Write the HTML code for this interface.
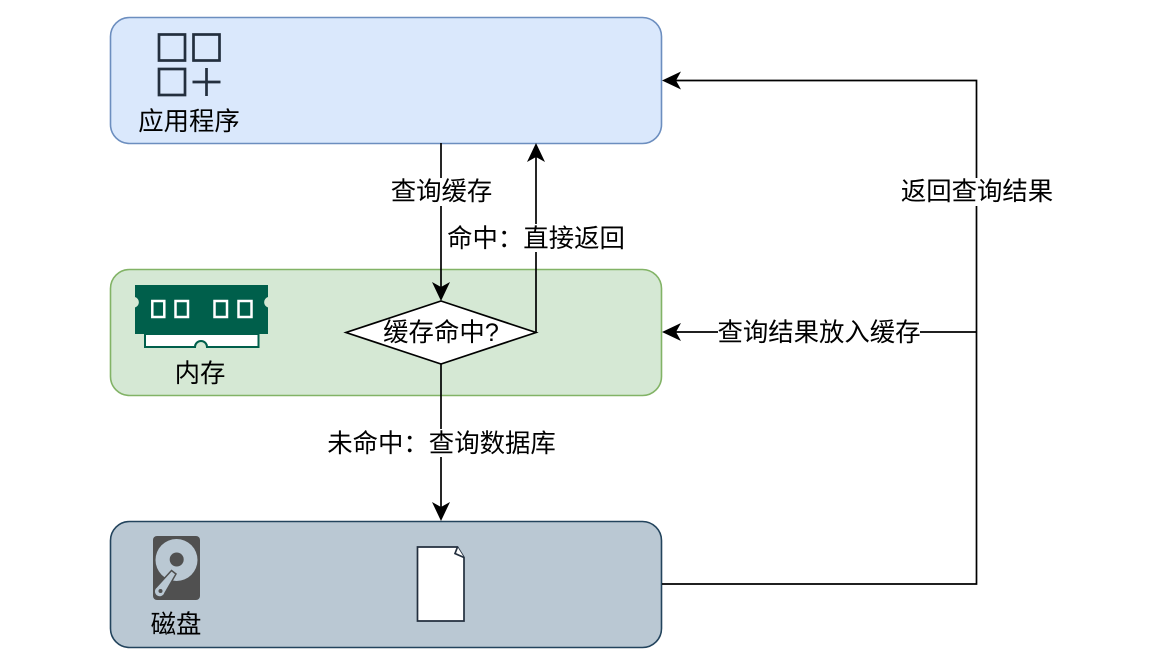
<!DOCTYPE html>
<html><head><meta charset="utf-8"><style>
html,body{margin:0;padding:0;background:#fff;width:1153px;height:667px;overflow:hidden}
svg{display:block}
text{font-family:"Liberation Sans","Noto Sans CJK SC",sans-serif;font-size:25.4px;fill:#000;text-anchor:middle}
</style></head><body>
<svg width="1153" height="667" viewBox="0 0 1153 667" xmlns="http://www.w3.org/2000/svg">
<rect width="1153" height="667" fill="#fff"/>
<rect x="110.500" y="17.500" width="551" height="126" rx="19" fill="#dae8fc" stroke="#6c8ebf" stroke-width="1.600"/>
<rect x="110.500" y="269.500" width="551" height="126" rx="19" fill="#d5e8d4" stroke="#82b366" stroke-width="1.600"/>
<rect x="110.500" y="521.500" width="551" height="126" rx="19" fill="#bac8d3" stroke="#23445d" stroke-width="1.600"/>

<!-- app icon -->
<g fill="none" stroke="#232f3e" stroke-width="2.700">
<rect x="159" y="34.500" width="26" height="26"/>
<rect x="193.500" y="34.500" width="26" height="26"/>
<rect x="159" y="69" width="26" height="26"/>
<path d="M192.500 82H220.500M206.500 68V96"/>
</g>
<text x="189" y="130">应用程序</text>

<!-- RAM icon -->
<path d="M135 285H268V297A5.500 5.500 0 0 0 268 307.500V334H135V307.500A5.500 5.500 0 0 0 135 297Z" fill="#005f4b"/>
<path d="M145 334V347H195A6 6 0 0 1 207 347H258.500V334Z" fill="#fff" stroke="#005f4b" stroke-width="2"/>
<g fill="#005f4b" stroke="#fff" stroke-width="2.500">
<rect x="152.300" y="301" width="12" height="16"/>
<rect x="175.500" y="301" width="12.500" height="16"/>
<rect x="214.500" y="301" width="12.500" height="16"/>
<rect x="238.500" y="301" width="13" height="16"/>
</g>
<text x="200" y="382">内存</text>

<!-- disk icon -->
<rect x="153" y="536" width="47" height="64" rx="4" fill="#505050"/>
<circle cx="176.500" cy="560" r="21" fill="#bac8d3"/>
<circle cx="176.700" cy="559.500" r="7" fill="#505050"/>
<path d="M171.500 570.500L176 574L165 593A5.500 5.500 0 1 1 156.500 587Z" fill="#bac8d3" stroke="#505050" stroke-width="1.500"/>
<circle cx="160.500" cy="591" r="2" fill="#505050"/>
<text x="176" y="633">磁盘</text>

<!-- file icon -->
<path d="M417.500 547H457.500L464 557.500V621H417.500Z" fill="#fff" stroke="#232f3e" stroke-width="1.700"/>
<path d="M457.500 547L455 553.500L464 557.500" fill="#fff" stroke="#232f3e" stroke-width="1.700"/>

<!-- connectors -->
<g fill="none" stroke="#000" stroke-width="1.700">
<path d="M441 143V288"/>
<path d="M441 364V508"/>
<path d="M536 332.500V156"/>
<path d="M662 584H976.500V80.500H675"/>
<path d="M976.500 332H675"/>
</g>
<g fill="#000">
<path d="M441 301L432 282L441 287L450 282Z"/>
<path d="M441 521L432 502L441 507L450 502Z"/>
<path d="M536 143L527 162L536 157L545 162Z"/>
<path d="M662 80.500L681 71.500L676 80.500L681 89.500Z"/>
<path d="M662 332L681 323L676 332L681 341Z"/>
</g>

<!-- diamond -->
<path d="M441 301L536 332.500L441 364L346 332.500Z" fill="#fff" stroke="#000" stroke-width="1.700"/>
<text x="441" y="341">缓存命中?</text>

<!-- edge labels -->
<rect x="391" y="178" width="101" height="28" fill="#fff"/>
<text x="441.500" y="200">查询缓存</text>
<rect x="448" y="224" width="176" height="28" fill="#fff"/>
<text x="536" y="247">命中：直接返回</text>
<rect x="328" y="429" width="227" height="28" fill="#fff"/>
<text x="441.500" y="452">未命中：查询数据库</text>
<rect x="718" y="318" width="202" height="28" fill="#fff"/>
<text x="819" y="341">查询结果放入缓存</text>
<rect x="901" y="178" width="152" height="28" fill="#fff"/>
<text x="977" y="200">返回查询结果</text>
</svg>
</body></html>
